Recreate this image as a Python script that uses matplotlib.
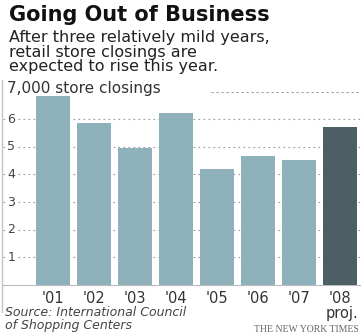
import matplotlib.pyplot as plt

years = ["'01", "'02", "'03", "'04", "'05", "'06", "'07", "'08"]
closings = [6.95, 5.87, 4.95, 6.23, 4.2, 4.67, 4.54, 5.72]  # thousands
ticks = [1, 2, 3, 4, 5, 6]

light = '#8fb1bc'
dark = '#4b5f64'
W, H = 361, 333

fig = plt.figure(figsize=(W / 100, H / 100), dpi=100)
fig.patch.set_facecolor('white')


def fx(px):
    return px / W


def fy(py):
    return 1 - py / H


# plot area: baseline at y=285, 7,000 line at y=91.5
ax = fig.add_axes([fx(3), fy(285), fx(358), (285 - 91.5) / H])
ax.set_xlim(-1.215, 7.517)
ax.set_ylim(0, 7)

for t in ticks:
    ax.axhline(t, color='#9a9a9a', lw=0.8, ls=(0, (1.5, 3)), zorder=1)
    ax.text(-1.215 + 0.2, t, str(t), ha='center', va='center', fontsize=9,
            color='#444444', zorder=2,
            bbox=dict(facecolor='white', edgecolor='none', pad=0.5))
ax.plot([3.85, 7.517], [7, 7], color='#9a9a9a', lw=0.8, ls=(0, (2, 2.5)), zorder=1)

colors = [light] * (len(years) - 1) + [dark]
ax.bar(range(len(years)), closings, width=0.84, color=colors, zorder=3, clip_on=False)

ax.set_xticks([])
ax.set_yticks([])
for s in ['top', 'right']:
    ax.spines[s].set_visible(False)
ax.spines['bottom'].set_color('#bbbbbb')
ax.spines['left'].set_visible(False)
fig.add_artist(plt.Line2D([fx(2), fx(2)], [fy(80), fy(312)], color='#c4c4c4', lw=1))

for i, y in enumerate(years):
    ax.text(i, -0.2, y, ha='center', va='top', fontsize=10.5, color='#333333')
ax.text(7.05, -0.75, 'proj.', ha='center', va='top', fontsize=10.5, color='#333333')

fig.text(fx(9), fy(15), 'Going Out of Business', fontsize=15, fontweight='heavy',
         va='center', ha='left', color='#111111')
fig.text(fx(9), fy(52), 'After three relatively mild years,\nretail store closings are\nexpected to rise this year.',
         fontsize=11.5, va='center', ha='left', color='#222222', linespacing=0.95)
fig.text(fx(7), fy(88), '7,000 store closings', fontsize=11, va='center', ha='left',
         color='#333333', bbox=dict(facecolor='white', edgecolor='none', pad=0.5))
fig.text(fx(5), fy(319), 'Source: International Council\nof Shopping Centers', fontsize=9,
         style='italic', va='center', ha='left', color='#444444', linespacing=0.95)
fig.text(fx(359), fy(329), 'THE NEW YORK TIMES', fontsize=7, family='Liberation Serif',
         va='center', ha='right', color='#666666')

fig.savefig('out.png', dpi=100)
